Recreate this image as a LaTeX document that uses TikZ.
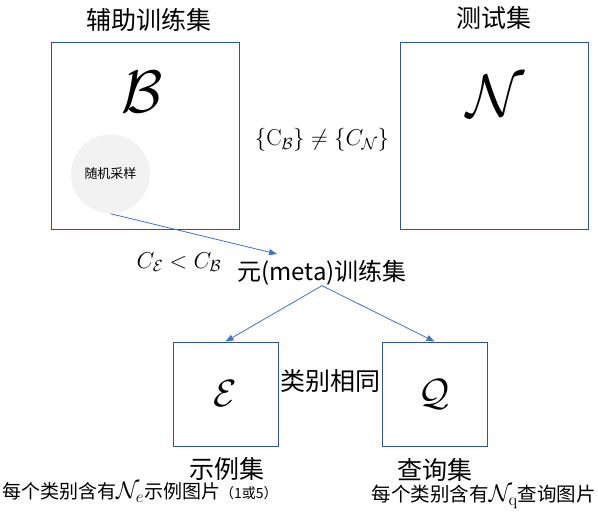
\documentclass[tikz,border=0pt]{standalone}
\usepackage{fix-cm}
\usepackage[no-math]{fontspec}
\setmainfont{Noto Sans CJK SC}
\usetikzlibrary{arrows.meta, positioning}
\definecolor{boxblue}{HTML}{2F5597}
\definecolor{arrowblue}{HTML}{4472C4}
\definecolor{circgray}{HTML}{F2F2F2}

\begin{document}
\begin{tikzpicture}[x=1pt, y=-1pt,
    setbox/.style={draw=boxblue, line width=0.9pt, inner sep=0pt},
    flow/.style={draw=arrowblue, line width=0.8pt, -{Triangle[length=8pt, width=6pt]}},
    title/.style={font=\fontsize{25}{28}\selectfont, inner sep=0pt}]
    \useasboundingbox (0,0) rectangle (598,515);

    % big sets on top
    \node[setbox, minimum width=188pt, minimum height=187pt] (aux) at (145,135.5) {};
    \node[setbox, minimum width=188pt, minimum height=187pt] (test) at (494,135.5) {};
    \node[title] (auxname) at (149,20) {辅助训练集};
    \node[title] (testname) at (494,18) {测试集};
    \node[font=\fontsize{60}{64}\selectfont] (bsym) at (142,92) {$\mathcal{B}$};
    \node[font=\fontsize{60}{64}\selectfont] (nsym) at (496,96) {$\mathcal{N}$};
    \node[font=\fontsize{23}{26}\selectfont] (neq) at (322,140) {$\{\mathrm{C}_{\mathcal{B}}\}\neq\{C_{\mathcal{N}}\}$};

    % sampling
    \node[circle, fill=circgray, minimum size=79pt, inner sep=0pt,
          font=\fontsize{13}{14}\selectfont] (sample) at (110.5,174) {随机采样};
    \coordinate (metain) at (277,254);
    \node[font=\fontsize{24}{27}\selectfont, inner sep=0pt] (meta) at (322,273) {元(meta)训练集};
    \node[font=\fontsize{23}{26}\selectfont] (less) at (179,262) {$C_{\mathcal{E}}<C_{\mathcal{B}}$};
    \draw[flow] (sample.south) -- (metain);

    % episode sets
    \node[setbox, minimum width=105pt, minimum height=104pt,
          font=\fontsize{38}{42}\selectfont] (supp) at (225.5,394) {$\mathcal{E}$};
    \node[setbox, minimum width=105pt, minimum height=104pt,
          font=\fontsize{38}{42}\selectfont] (query) at (434.5,394) {$\mathcal{Q}$};
    \draw[flow] (meta.south) -- (supp.north);
    \draw[flow] (meta.south) -- (query.north);
    \node[title] (same) at (330,381) {类别相同};
    \node[title] (suppname) at (227,469) {示例集};
    \node[title] (queryname) at (435,470) {查询集};
    \node[font=\fontsize{19}{21}\selectfont, inner sep=0pt, anchor=west] (suppnote) at (2,492)
        {每个类别含有{\fontsize{24}{26}\selectfont$\mathcal{N}_e$}示例图片{\fontsize{14}{15}\selectfont （1或5）}};
    \node[font=\fontsize{19.5}{21}\selectfont, inner sep=0pt, anchor=east] (querynote) at (596,497)
        {每个类别含有{\fontsize{24}{26}\selectfont$\mathcal{N}_{\mathrm{q}}$}查询图片};
\end{tikzpicture}
\end{document}
